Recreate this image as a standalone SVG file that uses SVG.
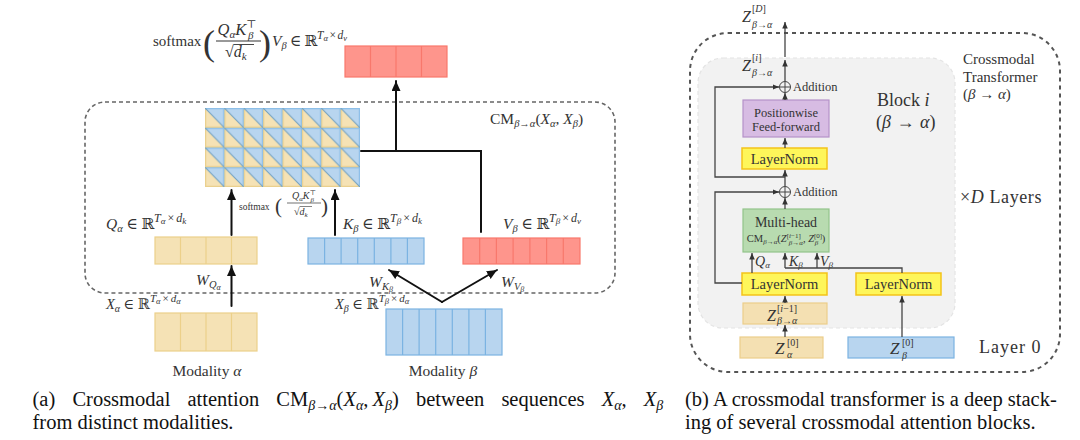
<svg xmlns="http://www.w3.org/2000/svg" width="1080" height="440" viewBox="0 0 1080 440">
<style>
text{font-family:"Liberation Serif","DejaVu Serif",serif;fill:#333}
.i{font-style:italic}
.cap{font-size:20.5px;fill:#111}
.ln{fill:#fef65a;stroke:#f3c31a;stroke-width:1.5}
.lnt{font-size:14.5px;text-anchor:middle}
.y{fill:#f5e2b5;stroke:#ecd08a;stroke-width:1.2}
.b{fill:#b8d5ef;stroke:#7bb3e2;stroke-width:1.2}
.r{fill:#fe958c;stroke:#f8786c;stroke-width:1.2}
.yd{stroke:#ecd08a;stroke-width:1.2;fill:none}
.bd{stroke:#7bb3e2;stroke-width:1.2;fill:none}
.rd{stroke:#f8786c;stroke-width:1.2;fill:none}
.ka{stroke:#111;stroke-width:2;fill:none;stroke-linecap:round}
.ga{stroke:#444;stroke-width:1.3;fill:none}
.dash{fill:none;stroke:#666;stroke-width:1.6;stroke-dasharray:4 3}
</style>
<defs>
<marker id="ak" markerUnits="userSpaceOnUse" markerWidth="11" markerHeight="10" refX="10" refY="4.5" orient="auto"><path d="M0,0 L10,4.5 L0,9 Z" fill="#111"/></marker>
<marker id="ag" markerUnits="userSpaceOnUse" markerWidth="8" markerHeight="6" refX="6.5" refY="2.75" orient="auto"><path d="M0,0 L6.5,2.75 L0,5.5 Z" fill="#333"/></marker>
<pattern id="cell" x="205" y="108" width="19.375" height="19.75" patternUnits="userSpaceOnUse">
<rect width="19.375" height="19.75" fill="#f5e2b5"/>
<path d="M0,0 L19.375,0 L19.375,19.75 Z" fill="#b8d5ef"/>
<path d="M0.6,0 V19.75 M0,19.15 H19.375" stroke="#ead08e" stroke-width="1.2"/>
<path d="M0,0.6 H19.375 M18.775,0 V19.75" stroke="#8dbfe8" stroke-width="1.2"/>
<path d="M0,0 L19.375,19.75" stroke="#6f9fc0" stroke-width="1"/>
</pattern>
</defs>

<!-- ===== Left panel ===== -->
<g id="cm-box">
<rect class="dash" x="85" y="102" width="530" height="191" rx="20"/>
<text x="490" y="124" font-size="15.5">CM<tspan class="i" font-size="10.5" dy="3">β→α</tspan><tspan dy="-3">(</tspan><tspan class="i">X</tspan><tspan class="i" font-size="10.5" dy="3">α</tspan><tspan dy="-3">, </tspan><tspan class="i">X</tspan><tspan class="i" font-size="10.5" dy="3">β</tspan><tspan dy="-3">)</tspan></text>
</g>

<g id="output">
<rect class="r" x="345" y="46" width="102" height="31"/>
<path class="rd" d="M370.5,46V77M396,46V77M421.5,46V77"/>
<text x="153" y="46" font-size="15">softmax</text>
<text x="203" y="55" font-size="36">(</text>
<text x="237" y="35" font-size="16.5" text-anchor="middle"><tspan class="i">Q</tspan><tspan class="i" font-size="11" dy="3">α</tspan><tspan class="i" dy="-3">K</tspan><tspan font-size="11" dy="-7">⊤</tspan><tspan class="i" font-size="11" dx="-8.5" dy="11">β</tspan></text>
<line x1="216" y1="41" x2="261" y2="41" stroke="#333" stroke-width="1"/>
<text x="225" y="57" font-size="16">√<tspan class="i">d</tspan><tspan class="i" font-size="11" dy="3">k</tspan></text>
<line x1="233.5" y1="44.5" x2="254" y2="44.5" stroke="#333" stroke-width="0.9"/>
<text x="259" y="55" font-size="36">)</text>
<text x="272" y="46" font-size="15.5"><tspan class="i">V</tspan><tspan class="i" font-size="10.5" dy="3">β</tspan><tspan dy="-3" dx="3">∈</tspan><tspan dx="3">ℝ</tspan><tspan font-size="11.5" dy="-7"><tspan class="i">T</tspan><tspan class="i" font-size="8.5" dy="2">α</tspan><tspan dy="-2" dx="1.5">×</tspan><tspan class="i" dx="1.5">d</tspan><tspan class="i" font-size="8.5" dy="2">v</tspan></tspan></text>
</g>

<g id="attention-matrix">
<rect x="205" y="108" width="155" height="79" fill="url(#cell)"/>
</g>

<g id="attn-label">
<text x="239" y="210" font-size="9.5">softmax</text>
<text x="275" y="213" font-size="21">(</text>
<text x="304" y="199" font-size="10" text-anchor="middle"><tspan class="i">Q</tspan><tspan class="i" font-size="7" dy="2">α</tspan><tspan class="i" dy="-2">K</tspan><tspan font-size="7" dy="-4">⊤</tspan><tspan class="i" font-size="7" dx="-5.5" dy="7">β</tspan></text>
<line x1="287" y1="203" x2="321" y2="203" stroke="#333" stroke-width="0.7"/>
<text x="294" y="214.5" font-size="10">√<tspan class="i">d</tspan><tspan class="i" font-size="7" dy="2">k</tspan></text>
<line x1="299.5" y1="206.5" x2="312" y2="206.5" stroke="#333" stroke-width="0.6"/>
<text x="321" y="213" font-size="21">)</text>
</g>

<g id="query">
<rect class="y" x="155" y="237" width="102" height="27"/>
<path class="yd" d="M180.5,237V264M206,237V264M231.5,237V264"/>
<text x="106" y="229" font-size="15.5"><tspan class="i">Q</tspan><tspan class="i" font-size="10.5" dy="3">α</tspan><tspan dy="-3" dx="3.5">∈</tspan><tspan dx="3.5">ℝ</tspan><tspan font-size="12" dy="-7"><tspan class="i">T</tspan><tspan class="i" font-size="9" dy="2">α</tspan><tspan dy="-2" dx="2">×</tspan><tspan class="i" dx="2">d</tspan><tspan class="i" font-size="9" dy="2">k</tspan></tspan></text>
</g>

<g id="key">
<rect class="b" x="308" y="238" width="116" height="26"/>
<path class="bd" d="M324.6,238V264M341.1,238V264M357.7,238V264M374.3,238V264M390.9,238V264M407.4,238V264"/>
<text x="343" y="229" font-size="15.5"><tspan class="i">K</tspan><tspan class="i" font-size="10.5" dy="3">β</tspan><tspan dy="-3" dx="3.5">∈</tspan><tspan dx="3.5">ℝ</tspan><tspan font-size="12" dy="-7"><tspan class="i">T</tspan><tspan class="i" font-size="9" dy="2">β</tspan><tspan dy="-2" dx="2">×</tspan><tspan class="i" dx="2">d</tspan><tspan class="i" font-size="9" dy="2">k</tspan></tspan></text>
</g>

<g id="value">
<rect class="r" x="463" y="238" width="117" height="26"/>
<path class="rd" d="M479.7,238V264M496.4,238V264M513.1,238V264M529.9,238V264M546.6,238V264M563.3,238V264"/>
<text x="503" y="229" font-size="15.5"><tspan class="i">V</tspan><tspan class="i" font-size="10.5" dy="3">β</tspan><tspan dy="-3" dx="3.5">∈</tspan><tspan dx="3.5">ℝ</tspan><tspan font-size="12" dy="-7"><tspan class="i">T</tspan><tspan class="i" font-size="9" dy="2">β</tspan><tspan dy="-2" dx="2">×</tspan><tspan class="i" dx="2">d</tspan><tspan class="i" font-size="9" dy="2">v</tspan></tspan></text>
</g>

<g id="x-alpha">
<rect class="y" x="155" y="313" width="102" height="38"/>
<path class="yd" d="M180.5,313V351M206,313V351M231.5,313V351"/>
<text x="106" y="309" font-size="14.5"><tspan class="i">X</tspan><tspan class="i" font-size="10" dy="3">α</tspan><tspan dy="-3" dx="3.5">∈</tspan><tspan dx="3.5">ℝ</tspan><tspan font-size="11" dy="-7"><tspan class="i">T</tspan><tspan class="i" font-size="8.5" dy="2">α</tspan><tspan dy="-2" dx="2">×</tspan><tspan class="i" dx="2">d</tspan><tspan class="i" font-size="8.5" dy="2">α</tspan></tspan></text>
<text x="207" y="376" font-size="15.5" text-anchor="middle">Modality <tspan class="i">α</tspan></text>
</g>

<g id="x-beta">
<rect class="b" x="386" y="309" width="116" height="46"/>
<path class="bd" d="M402.6,309V355M419.1,309V355M435.7,309V355M452.3,309V355M468.9,309V355M485.4,309V355"/>
<text x="335" y="309" font-size="14.5"><tspan class="i">X</tspan><tspan class="i" font-size="10" dy="3">β</tspan><tspan dy="-3" dx="3.5">∈</tspan><tspan dx="3.5">ℝ</tspan><tspan font-size="11" dy="-7"><tspan class="i">T</tspan><tspan class="i" font-size="8.5" dy="2">β</tspan><tspan dy="-2" dx="2">×</tspan><tspan class="i" dx="2">d</tspan><tspan class="i" font-size="8.5" dy="2">α</tspan></tspan></text>
<text x="443" y="376" font-size="15.5" text-anchor="middle">Modality <tspan class="i">β</tspan></text>
</g>

<g id="weights">
<text x="196" y="285" font-size="15.5"><tspan class="i">W</tspan><tspan class="i" font-size="10.5" dy="3">Q</tspan><tspan class="i" font-size="8" dy="2">α</tspan></text>
<text x="369" y="287" font-size="15.5"><tspan class="i">W</tspan><tspan class="i" font-size="10.5" dy="3">K</tspan><tspan class="i" font-size="8" dy="2">β</tspan></text>
<text x="501" y="287" font-size="15.5"><tspan class="i">W</tspan><tspan class="i" font-size="10.5" dy="3">V</tspan><tspan class="i" font-size="8" dy="2">β</tspan></text>
</g>

<g id="left-connectors">
<path class="ka" d="M396,151 V81" marker-end="url(#ak)"/>
<path class="ka" d="M361,151 H481 V232"/>
<path class="ka" d="M231.5,235 V190" marker-end="url(#ak)"/>
<path class="ka" d="M335,235 V190" marker-end="url(#ak)"/>
<path class="ka" d="M231.5,306 V266" marker-end="url(#ak)"/>
<path class="ka" d="M442,302 L389,270" marker-end="url(#ak)"/>
<path class="ka" d="M442,302 L497,270" marker-end="url(#ak)"/>
</g>

<!-- ===== Right panel ===== -->
<g id="transformer-box">
<rect x="690" y="33" width="370" height="339" rx="38" fill="none" stroke="#555" stroke-width="2" stroke-dasharray="4 4"/>
<text x="963" y="64" font-size="15">Crossmodal</text>
<text x="963" y="81.5" font-size="15">Transformer</text>
<text x="963" y="99" font-size="15">(<tspan class="i">β</tspan> → <tspan class="i">α</tspan>)</text>
<text x="960" y="203" font-size="18" letter-spacing="0.6">×<tspan class="i">D</tspan> Layers</text>
<text x="979" y="353" font-size="18" letter-spacing="1">Layer 0</text>
</g>

<g id="block">
<rect x="698" y="58" width="257" height="270" rx="25" fill="#f2f2f2" stroke="#e4e4e4" stroke-width="1.2" stroke-dasharray="4 3"/>
<text x="877" y="106" font-size="18">Block <tspan class="i">i</tspan></text>
<text x="876" y="128" font-size="18">(<tspan class="i">β</tspan> <tspan dx="1">→</tspan> <tspan class="i" dx="1">α</tspan>)</text>
</g>

<g id="z-out">
<text x="742" y="22" font-size="16" class="i">Z</text>
<text x="752" y="12" font-size="10">[<tspan class="i">D</tspan>]</text>
<text x="752" y="28" font-size="10"><tspan class="i">β</tspan>→<tspan class="i">α</tspan></text>
</g>

<g id="z-i">
<text x="742" y="71" font-size="16" class="i">Z</text>
<text x="752" y="61" font-size="10">[<tspan class="i">i</tspan>]</text>
<text x="752" y="76" font-size="10"><tspan class="i">β</tspan>→<tspan class="i">α</tspan></text>
</g>

<g id="add1">
<circle cx="785" cy="87" r="5.5" fill="none" stroke="#444" stroke-width="1"/>
<path d="M779.5,87H790.5M785,81.5V92.5" stroke="#444" stroke-width="1"/>
<text x="793" y="91" font-size="12.5">Addition</text>
</g>

<g id="ffn">
<rect x="743" y="100" width="86" height="37" fill="#d7bce3" stroke="#b592c8" stroke-width="1.2"/>
<text x="786" y="117" font-size="12.5" text-anchor="middle">Positionwise</text>
<text x="786" y="131" font-size="12.5" text-anchor="middle">Feed-forward</text>
</g>

<g id="ln-top">
<rect class="ln" x="742" y="148" width="85" height="21"/>
<text class="lnt" x="784.5" y="163.5">LayerNorm</text>
</g>

<g id="add2">
<circle cx="785" cy="192" r="5.5" fill="none" stroke="#444" stroke-width="1"/>
<path d="M779.5,192H790.5M785,186.5V197.5" stroke="#444" stroke-width="1"/>
<text x="793" y="196" font-size="12.5">Addition</text>
</g>

<g id="multihead">
<rect x="743" y="209" width="86" height="43" fill="#b8dbb0" stroke="#92c48a" stroke-width="1.2"/>
<text x="786" y="227" font-size="14" text-anchor="middle">Multi-head</text>
<text x="786" y="242" font-size="10.5" text-anchor="middle">CM<tspan class="i" font-size="7" dy="2">β→α</tspan><tspan dy="-2">(</tspan><tspan class="i">Z</tspan><tspan font-size="7" dy="-4">[<tspan class="i">i</tspan>−1]</tspan><tspan class="i" font-size="7" dx="-12" dy="7">β→α</tspan><tspan dy="-3">, </tspan><tspan class="i">Z</tspan><tspan font-size="7" dy="-4">[0]</tspan><tspan class="i" font-size="7" dx="-7.5" dy="7">β</tspan><tspan dy="-3" dx="3.5">)</tspan></text>
</g>

<g id="qkv-labels">
<text x="755" y="266" font-size="14"><tspan class="i">Q</tspan><tspan class="i" font-size="9" dy="2">α</tspan></text>
<text x="789" y="266" font-size="14"><tspan class="i">K</tspan><tspan class="i" font-size="9" dy="2">β</tspan></text>
<text x="820" y="266" font-size="14"><tspan class="i">V</tspan><tspan class="i" font-size="9" dy="2">β</tspan></text>
</g>

<g id="ln-left">
<rect class="ln" x="742" y="273" width="85" height="22"/>
<text class="lnt" x="784.5" y="289">LayerNorm</text>
</g>

<g id="ln-right">
<rect class="ln" x="856" y="273" width="85" height="22"/>
<text class="lnt" x="898.5" y="289">LayerNorm</text>
</g>

<g id="z-prev">
<rect x="743" y="303" width="84" height="21" fill="#f4e0b2" stroke="#ebcd8a" stroke-width="1.2"/>
<text x="767" y="321" font-size="16" class="i">Z</text>
<text x="777" y="312" font-size="10">[<tspan class="i">i</tspan>−1]</text>
<text x="777" y="324" font-size="10"><tspan class="i">β</tspan>→<tspan class="i">α</tspan></text>
</g>

<g id="z-alpha0">
<rect x="740" y="337" width="83" height="21" fill="#f4e0b2" stroke="#ebcd8a" stroke-width="1.2"/>
<text x="775" y="354" font-size="17" class="i">Z</text>
<text x="787" y="346" font-size="10">[0]</text>
<text x="787" y="358" font-size="10" class="i">α</text>
</g>

<g id="z-beta0">
<rect class="b" x="848" y="337" width="106" height="21"/>
<text x="890" y="354" font-size="17" class="i">Z</text>
<text x="902" y="346" font-size="10">[0]</text>
<text x="902" y="359" font-size="10" class="i">β</text>
</g>

<g id="right-connectors">
<path class="ga" d="M785,81 V60" marker-end="url(#ag)"/>
<path class="ga" d="M785,57 V22" marker-end="url(#ag)"/>
<path class="ga" d="M785,100 V93" marker-end="url(#ag)"/>
<path class="ga" d="M785,148 V138" marker-end="url(#ag)"/>
<path class="ga" d="M785,186 V170" marker-end="url(#ag)"/>
<path class="ga" d="M785,177 H715 V87 H779" marker-end="url(#ag)"/>
<path class="ga" d="M785,209 V198" marker-end="url(#ag)"/>
<path class="ga" d="M742,283 H715 V192 H779" marker-end="url(#ag)"/>
<path class="ga" d="M752,273 V253" marker-end="url(#ag)"/>
<path class="ga" d="M785,268 V253" marker-end="url(#ag)"/>
<path class="ga" d="M817,268 V253" marker-end="url(#ag)"/>
<path class="ga" d="M785,268 H902 V273"/>
<path class="ga" d="M785,303 V296" marker-end="url(#ag)"/>
<path class="ga" d="M785,337 V325" marker-end="url(#ag)"/>
<path class="ga" d="M902,337 V296" marker-end="url(#ag)"/>
</g>

<!-- ===== Captions ===== -->
<g id="captions">
<text class="cap" x="32.5" y="406" word-spacing="12">(a) Crossmodal attention CM<tspan class="i" font-size="14" dy="4">β→α</tspan><tspan dy="-4">(</tspan><tspan class="i">X</tspan><tspan class="i" font-size="14" dy="4">α</tspan><tspan dy="-4">,&#8201;</tspan><tspan class="i">X</tspan><tspan class="i" font-size="14" dy="4">β</tspan><tspan dy="-4">) between sequences </tspan><tspan class="i">X</tspan><tspan class="i" font-size="14" dy="4">α</tspan><tspan dy="-4">, </tspan><tspan class="i">X</tspan><tspan class="i" font-size="14" dy="4">β</tspan></text>
<text class="cap" x="32.5" y="429">from distinct modalities.</text>
<text class="cap" x="685" y="406">(b) A crossmodal transformer is a deep stack-</text>
<text class="cap" x="685" y="429">ing of several crossmodal attention blocks.</text>
</g>
</svg>
